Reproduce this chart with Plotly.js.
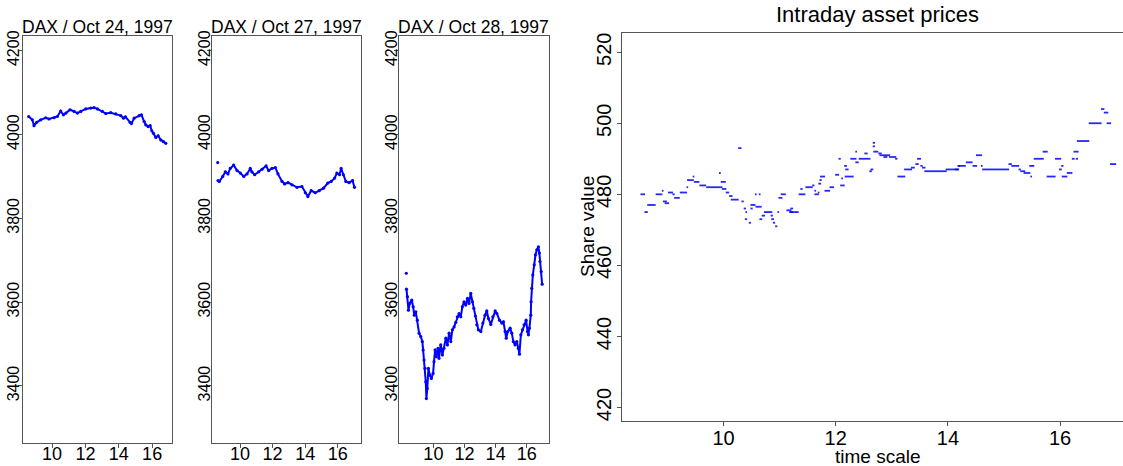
<!DOCTYPE html>
<html>
<head>
<meta charset="utf-8">
<script src="https://cdn.plot.ly/plotly-3.0.1.min.js"></script>
<style>
  html, body { margin: 0; padding: 0; overflow: hidden; background: #fff; }
  #chart { width: 1140px; height: 466px; }
</style>
</head>
<body>
<div id="chart"></div>
<script>
// ---- DAX intraday index levels (hours of the trading day, index points) ----
const dax24Time = [8.60, 8.82, 8.92, 9.08, 9.32, 9.62, 9.82, 10.12, 10.32, 10.52, 10.68, 10.83, 11.08, 11.32, 11.52, 11.72, 12.02, 12.32, 12.52, 12.72, 13.02, 13.22, 13.52, 13.82, 14.12, 14.28, 14.40, 14.68, 14.76, 14.92, 15.22, 15.36, 15.52, 15.62, 15.76, 15.88, 15.98, 16.08, 16.22, 16.36, 16.52, 16.68, 16.82];
const dax24Value = [4043, 4035, 4021, 4029, 4035, 4040, 4037, 4040, 4043, 4056, 4047, 4051, 4059, 4055, 4051, 4055, 4061, 4063, 4064, 4061, 4055, 4050, 4052, 4049, 4045, 4039, 4042, 4029, 4026, 4039, 4045, 4047, 4031, 4023, 4019, 4021, 4009, 4003, 3993, 3997, 3987, 3983, 3979];

const dax27Time = [8.63, 8.65, 8.73, 8.94, 9.10, 9.26, 9.40, 9.61, 9.82, 10.02, 10.23, 10.43, 10.63, 10.73, 10.90, 11.15, 11.35, 11.60, 11.76, 11.96, 12.17, 12.33, 12.58, 12.74, 12.95, 13.19, 13.50, 13.80, 14.01, 14.17, 14.37, 14.62, 14.86, 15.13, 15.39, 15.60, 15.81, 15.95, 16.11, 16.21, 16.35, 16.50, 16.70, 16.91, 17.03];
const dax27Value = [3933, 3890, 3888, 3900, 3911, 3906, 3919, 3927, 3914, 3908, 3900, 3906, 3919, 3911, 3904, 3911, 3917, 3925, 3914, 3919, 3921, 3906, 3888, 3882, 3885, 3880, 3874, 3876, 3861, 3852, 3866, 3861, 3866, 3872, 3884, 3888, 3896, 3908, 3904, 3919, 3904, 3888, 3885, 3890, 3874];

const dax28Time = [8.26, 8.27, 8.33, 8.40, 8.48, 8.61, 8.70, 8.77, 8.87, 8.97, 9.08, 9.19, 9.29, 9.34, 9.40, 9.46, 9.51, 9.55, 9.61, 9.68, 9.77, 9.87, 9.98, 10.04, 10.11, 10.19, 10.30, 10.36, 10.47, 10.58, 10.68, 10.80, 10.90, 11.01, 11.12, 11.22, 11.33, 11.44, 11.54, 11.65, 11.76, 11.86, 11.97, 12.08, 12.19, 12.29, 12.40, 12.51, 12.60, 12.70, 12.79, 12.89, 13.05, 13.18, 13.32, 13.43, 13.54, 13.69, 13.82, 13.97, 14.08, 14.25, 14.40, 14.50, 14.61, 14.68, 14.78, 14.93, 15.04, 15.14, 15.25, 15.36, 15.46, 15.53, 15.62, 15.72, 15.83, 15.96, 16.05, 16.11, 16.17, 16.26, 16.28, 16.32, 16.39, 16.48, 16.56, 16.65, 16.75, 16.81, 16.85, 16.93, 16.99];
const dax28Value = [3669, 3631, 3613, 3581, 3597, 3605, 3589, 3569, 3577, 3557, 3526, 3518, 3506, 3486, 3462, 3442, 3410, 3370, 3394, 3442, 3426, 3418, 3430, 3458, 3486, 3470, 3490, 3466, 3498, 3474, 3490, 3514, 3498, 3526, 3506, 3534, 3541, 3552, 3565, 3573, 3565, 3589, 3601, 3593, 3609, 3597, 3621, 3601, 3585, 3567, 3546, 3534, 3530, 3550, 3569, 3579, 3561, 3547, 3565, 3579, 3573, 3557, 3550, 3553, 3530, 3514, 3530, 3538, 3526, 3506, 3498, 3506, 3490, 3476, 3522, 3534, 3546, 3557, 3530, 3522, 3538, 3569, 3601, 3633, 3665, 3689, 3713, 3725, 3732, 3717, 3697, 3673, 3643];

const daxTitles = ["DAX / Oct 24, 1997", "DAX / Oct 27, 1997", "DAX / Oct 28, 1997"];
// the first print of the 27th and 28th is an isolated opening quote
const daxOpeningGap = [false, true, true];

// ---- Single share: price levels held between two times ----
const shareStart = [8.52, 8.59, 8.64, 8.79, 8.90, 8.92, 8.95, 9.01, 9.09, 9.12, 9.22, 9.34, 9.35, 9.45, 9.47, 9.57, 9.69, 9.92, 9.95, 9.97, 10.04, 10.10, 10.13, 10.26, 10.32, 10.36, 10.38, 10.39, 10.45, 10.48, 10.48, 10.57, 10.56, 10.63, 10.64, 10.68, 10.72, 10.84, 10.85, 10.88, 10.92, 10.96, 10.98, 11.02, 11.12, 11.17,
  11.19, 11.19, 11.34, 11.37, 11.46, 11.58, 11.62, 11.62, 11.68, 11.69, 11.71, 11.72, 11.80, 11.89, 11.99, 12.05, 12.08, 12.10, 12.15, 12.17, 12.16, 12.26, 12.35, 12.35, 12.41, 12.51, 12.60, 12.62, 12.66, 12.66, 12.67, 12.76, 12.78, 12.85, 12.95, 13.06, 13.10, 13.22, 13.34, 13.42, 13.45, 13.51, 13.54, 13.58, 13.96, 14.17,
  14.13, 14.19, 14.32, 14.44, 14.50, 14.59, 14.61, 15.08, 15.13, 15.26, 15.29, 15.35, 15.45, 15.47, 15.53, 15.69, 15.76, 15.91, 15.98, 16.02, 16.03, 16.12, 16.21, 16.24, 16.28, 16.30, 16.51, 16.73, 16.78, 16.83, 16.89];
const shareEnd = [8.60, 8.65, 8.79, 8.91, 8.93, 8.99, 9.03, 9.10, 9.13, 9.22, 9.35, 9.37, 9.47, 9.48, 9.57, 9.69, 9.98, 9.95, 10.04, 10.05, 10.10, 10.16, 10.27, 10.32, 10.36, 10.40, 10.42, 10.42, 10.49, 10.52, 10.57, 10.68, 10.59, 10.66, 10.69, 10.74, 10.87, 10.88, 10.90, 10.92, 10.96, 10.99, 11.05, 11.11, 11.21, 11.24,
  11.34, 11.24, 11.46, 11.41, 11.59, 11.62, 11.65, 11.70, 11.71, 11.74, 11.75, 11.81, 11.90, 11.97, 12.06, 12.09, 12.16, 12.13, 12.20, 12.23, 12.32, 12.37, 12.41, 12.38, 12.62, 12.57, 12.645, 12.67, 12.70, 12.70, 12.76, 12.82, 12.97, 12.92, 13.08, 13.10, 13.24, 13.36, 13.41, 13.48, 13.52, 13.55, 13.60, 13.98, 14.20, 14.22,
  14.19, 14.32, 14.44, 14.52, 14.61, 14.62, 15.09, 15.14, 15.27, 15.30, 15.38, 15.47, 15.54, 15.50, 15.71, 15.78, 15.92, 16.02, 16.03, 16.06, 16.13, 16.22, 16.26, 16.33, 16.32, 16.52, 16.74, 16.79, 16.86, 16.91, 17.00];
const sharePrice = [480, 475, 477, 480, 481, 478, 477.5, 480.5, 480, 479, 480.5, 482, 484, 485, 483.5, 482.5, 482, 486, 483.5, 481.5, 480.5, 479.5, 478.5, 493, 478, 476, 473, 475, 472, 476, 477, 476.5, 480, 480, 473, 474, 475, 474, 473, 472, 471, 475, 479, 480, 475.5, 475,
  475, 476, 480, 481.5, 482, 482.5, 481, 480, 480.5, 483, 484, 485, 481, 482, 485.5, 490, 482.5, 484.5, 488, 487, 485, 490, 489, 492, 490, 491.5, 486.5, 487, 494.5, 493.5, 492, 491.5, 491, 490.5, 490.5, 490, 485, 487, 487.5, 488.5, 490, 488, 487.5, 486.5, 487, 488,
  487, 488, 489, 488, 491, 488, 487, 488.5, 488, 487, 486.5, 486, 488, 485, 490, 492, 485, 490, 487, 488, 485, 486, 490, 492, 490, 495, 500, 504, 503, 500, 488.5];

const timeTicks = [10, 12, 14, 16];
const daxTicks = [3400, 3600, 3800, 4000, 4200];
const shareTicks = [420, 440, 460, 480, 500, 520];

// ---- page geometry (pixels) ----
const W = 1140, H = 466;
const FONT = "Liberation Sans, Arial, Helvetica, sans-serif";
const INK = "#000";
const FRAME = "#555";
const xd = (a, b) => [a / W, b / W];
const yd = (top, bottom) => [1 - bottom / H, 1 - top / H];

const daxPanels = [
  { x: xd(23, 172), xr: [8.26, 17.19], t: dax24Time, v: dax24Value, yStand: -8 },
  { x: xd(212, 361), xr: [8.28, 17.43], t: dax27Time, v: dax27Value, yStand: -10 },
  { x: xd(399, 549), xr: [7.79, 17.43], t: dax28Time, v: dax28Value, yStand: -10 }
];
const daxY = yd(36, 443);
const daxYRange = [3264, 4235];

function axisBase(extra) {
  return Object.assign({
    showgrid: false, zeroline: false, showline: true, mirror: true,
    linecolor: FRAME, linewidth: 1.3,
    ticks: "outside", ticklen: 4, tickwidth: 1, tickcolor: FRAME,
    tickmode: "array", fixedrange: true
  }, extra);
}

const traces = [];
const layout = {
  width: W, height: H,
  margin: { l: 0, r: 0, t: 0, b: 0 },
  paper_bgcolor: "#fff", plot_bgcolor: "#fff",
  showlegend: false,
  font: { family: FONT, color: INK },
  annotations: []
};

function label(text, xPx, yPx, size, angle) {
  layout.annotations.push({
    xref: "paper", yref: "paper",
    x: xPx / W, y: 1 - yPx / H,
    xanchor: "center", yanchor: "middle", showarrow: false,
    textangle: angle || 0,
    text: text, font: { family: FONT, size: size, color: INK }
  });
}

daxPanels.forEach((p, i) => {
  const n = i + 1;
  const xa = "x" + (n === 1 ? "" : n), ya = "y" + (n === 1 ? "" : n);
  const start = daxOpeningGap[i] ? 1 : 0;
  traces.push({
    type: "scatter", mode: "lines", xaxis: xa, yaxis: ya,
    x: p.t.slice(start), y: p.v.slice(start),
    line: { color: "#0000ff", width: 2 }, hoverinfo: "skip"
  });
  traces.push({
    type: "scatter", mode: "markers", xaxis: xa, yaxis: ya,
    x: p.t, y: p.v,
    marker: { color: "#0000ff", size: 3.2 }, hoverinfo: "skip"
  });
  layout["xaxis" + (n === 1 ? "" : n)] = axisBase({
    domain: p.x, range: p.xr, anchor: ya,
    tickvals: timeTicks, ticktext: timeTicks.map(String),
    ticklabelstandoff: -10,
    tickfont: { family: FONT, size: 18, color: INK }
  });
  layout["yaxis" + (n === 1 ? "" : n)] = axisBase({
    domain: daxY, range: daxYRange, anchor: xa,
    tickvals: daxTicks, ticktext: daxTicks.map(String), tickangle: -90,
    ticklabelstandoff: p.yStand,
    tickfont: { family: FONT, size: 16, color: INK }
  });
  label(daxTitles[i], (p.x[0] + p.x[1]) / 2 * W, 27, 17.5);
});

// share price: each held level becomes one horizontal stroke
const segX = [], segY = [];
sharePrice.forEach((price, k) => {
  segX.push(shareStart[k], shareEnd[k], null);
  segY.push(price, price, null);
});
traces.push({
  type: "scatter", mode: "lines", xaxis: "x4", yaxis: "y4",
  x: segX, y: segY, connectgaps: false,
  line: { color: "rgba(0,0,255,0.85)", width: 1.8 }, hoverinfo: "skip"
});
const shareX = xd(622, 1133);
layout.xaxis4 = axisBase({
  domain: shareX, range: [8.19, 17.30], anchor: "y4",
  tickvals: timeTicks, ticktext: timeTicks.map(String),
  ticklabelstandoff: -5,
  tickfont: { family: FONT, size: 20, color: INK }
});
layout.yaxis4 = axisBase({
  domain: yd(33, 421), range: [416.2, 525.4], anchor: "x4",
  tickvals: shareTicks, ticktext: shareTicks.map(String), tickangle: -90,
  ticklabelstandoff: -2,
  tickfont: { family: FONT, size: 20, color: INK }
});
label("Intraday asset prices", (shareX[0] + shareX[1]) / 2 * W, 15, 22);
label("time scale", (shareX[0] + shareX[1]) / 2 * W, 456, 19);
label("Share value", 588, 227, 19, -90);

Plotly.newPlot("chart", traces, layout, { staticPlot: true, displayModeBar: false });
</script>
</body>
</html>
